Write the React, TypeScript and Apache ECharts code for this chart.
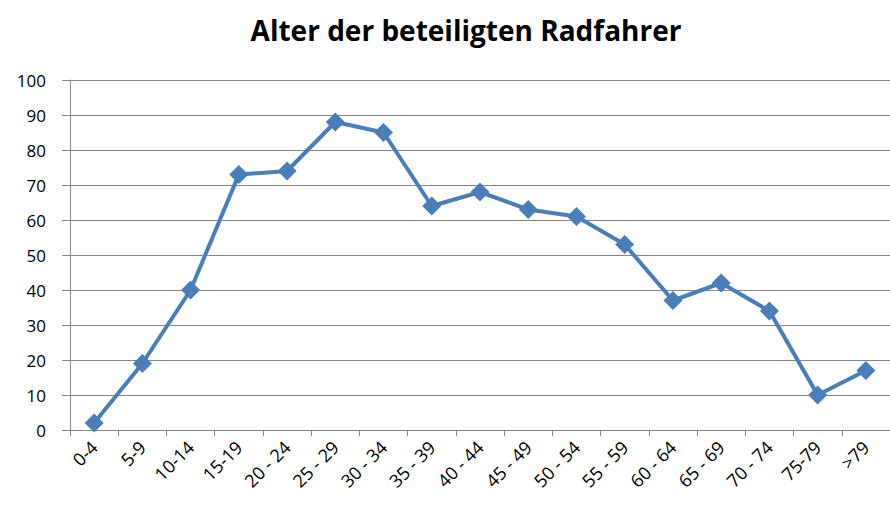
import React, { useEffect, useRef } from "react";
import * as echarts from "echarts";

const categories = ["0-4", "5-9", "10-14", "15-19", "20 - 24", "25 - 29", "30 - 34", "35 - 39", "40 - 44", "45 - 49", "50 - 54", "55 - 59", "60 - 64", "65 - 69", "70 - 74", "75-79", ">79"];
const values = [2, 19, 40, 73, 74, 88, 85, 64, 68, 63, 61, 53, 37, 42, 34, 10, 17];
const title = "Alter der beteiligten Radfahrer";

export default function App() {
  const ref = useRef<HTMLDivElement>(null);
  useEffect(() => {
    const chart = echarts.init(ref.current!, null, { renderer: "svg" });
    const font = "'Open Sans', 'Noto Sans', sans-serif";
    chart.setOption({
      animation: false,
      title: {
        text: title,
        left: 461,
        top: 11,
        textAlign: "center",
        textStyle: { fontFamily: font, fontSize: 28, fontWeight: "bold", color: "#000" },
      },
      grid: { left: 70, right: -9, top: 80, bottom: 82, containLabel: false },
      xAxis: {
        type: "category",
        data: categories,
        boundaryGap: true,
        axisLine: { lineStyle: { color: "#868686", width: 1 } },
        axisTick: { show: true, length: 6, lineStyle: { color: "#868686" }, alignWithLabel: false },
        axisLabel: { rotate: 45, fontFamily: font, fontSize: 18, color: "#000", margin: 14, interval: 0 },
        splitLine: { show: false },
      },
      yAxis: {
        type: "value",
        min: 0,
        max: 100,
        interval: 10,
        axisLine: { show: true, lineStyle: { color: "#868686", width: 1 } },
        axisTick: { show: true, length: 8, lineStyle: { color: "#868686" } },
        axisLabel: { fontFamily: font, fontSize: 17, color: "#000", margin: 24 },
        splitLine: { lineStyle: { color: "#868686", width: 1 } },
      },
      series: [
        {
          type: "line",
          data: values,
          symbol: "diamond",
          symbolSize: 19,
          lineStyle: { color: "#4a7ebb", width: 4 },
          itemStyle: { color: "#4a7ebb" },
        },
      ],
    });
    return () => chart.dispose();
  }, []);
  return <div ref={ref} style={{ width: 890, height: 512, position: "absolute", left: 0, top: 0, background: "#fff" }} />;
}
